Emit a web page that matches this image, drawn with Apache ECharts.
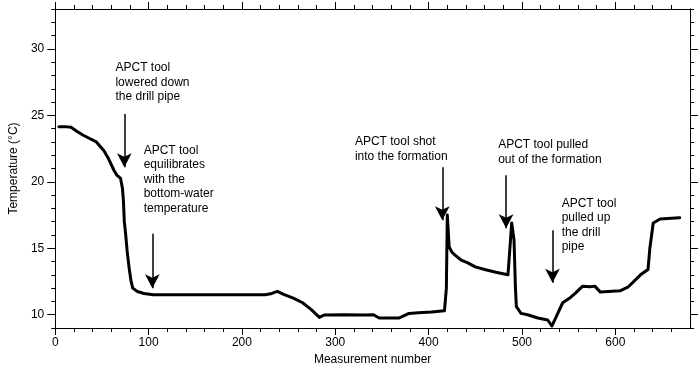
<!DOCTYPE html>
<html>
<head>
<meta charset="utf-8">
<script src="https://cdn.jsdelivr.net/npm/echarts@6/dist/echarts.min.js"></script>
<style>
html,body{margin:0;padding:0;background:#fff;}
#c{width:698px;height:372px;}
</style>
</head>
<body>
<div id="c"></div>
<script>
// Measurement number (x) and temperature in °C (y)
const measurement = [4,10,17,23,30,44,52,57,63,66,70,72,73,74,75.5,77,79,81,83,88,95,105,150,200,225,232,238,244,255,265,274,283,288,310,332,341,347,368,379,389,403,417,419,420,422,425,428,435,442,450,460,472,485,486,489,491.5,493,494,499,506,517,527.6,532,536,543.6,552,557,565,573,578,584,605,614,627,635,637,640.6,648,660,669];
const temperature = [24.15,24.15,24.1,23.8,23.5,23.0,22.35,21.75,20.85,20.5,20.25,19.5,18.6,17.0,16.0,14.8,13.6,12.6,12.0,11.75,11.6,11.5,11.5,11.5,11.5,11.6,11.75,11.55,11.25,10.9,10.4,9.8,9.98,10.0,9.98,10.0,9.75,9.75,10.1,10.15,10.2,10.3,12.0,17.5,15.1,14.7,14.5,14.1,13.9,13.6,13.4,13.2,13.0,13.1,16.9,15.6,12.0,10.6,10.1,10.0,9.75,9.6,9.15,9.75,10.9,11.3,11.6,12.15,12.1,12.15,11.7,11.8,12.1,13.0,13.4,15.0,16.9,17.2,17.25,17.3];

const xMajorTicks = [0,100,200,300,400,500,600];
const xMinorTicks = [20,40,60,80,120,140,160,180,220,240,260,280,320,340,360,380,420,440,460,480,520,540,560,580,620,640,660];
const yMajorTicks = [10,15,20,25,30];
const yMinorTicks = [9,11,12,13,14,16,17,18,19,21,22,23,24,26,27,28,29,31,32,33];

// Annotations: text (top-left anchor in data units) and arrows (x, start y, tip y)
const noteTexts = ['APCT tool\nlowered down\nthe drill pipe','APCT tool\nequilibrates\nwith the\nbottom-water\ntemperature','APCT tool shot\ninto the formation','APCT tool pulled\nout of the formation','APCT tool\npulled up\nthe drill\npipe'];
const noteX = [64.5, 94.7, 321, 474.5, 542.5];
const noteY = [29.1, 22.9, 23.55, 23.3, 18.9];
const arrowX = [74, 104, 414.6, 483, 532.7];
const arrowFromY = [25.1, 16.1, 21.1, 20.5, 16.35];
const arrowToY = [21.1, 12.0, 17.1, 16.5, 12.4];

const FONT = 'Liberation Sans, Arial, Helvetica, sans-serif';
const chart = echarts.init(document.getElementById('c'), null, {renderer:'canvas'});

function xAxisDef(pos, ticks, len, showLabel, name) {
  return {
    type:'value', position:pos, min:0, max:680,
    name: name || '', nameLocation:'middle', nameGap:23,
    nameTextStyle:{fontFamily:FONT, fontSize:12, color:'#000'},
    axisLine:{show:true, onZero:false, lineStyle:{color:'#000', width:1}},
    axisTick:{show:true, customValues:ticks, length:len, lineStyle:{color:'#000', width:1}},
    axisLabel:{show:showLabel, customValues:ticks, margin:9, fontFamily:FONT, fontSize:12, color:'#000'},
    splitLine:{show:false}
  };
}
function yAxisDef(pos, ticks, len, showLabel, name) {
  return {
    type:'value', position:pos, min:9, max:33,
    name: name || '', nameLocation:'middle', nameGap:33,
    nameTextStyle:{fontFamily:FONT, fontSize:12, color:'#000'},
    axisLine:{show:true, onZero:false, lineStyle:{color:'#000', width:1}},
    axisTick:{show:true, customValues:ticks, length:len, lineStyle:{color:'#000', width:1}},
    axisLabel:{show:showLabel, customValues:ticks, margin:11, fontFamily:FONT, fontSize:12, color:'#000'},
    splitLine:{show:false}
  };
}

const lineData = measurement.map((x,i)=>[x, temperature[i]]);

const option = {
  animation:false,
  backgroundColor:'#fff',
  grid:{left:51, right:8, top:9, bottom:44, containLabel:false},
  xAxis:[
    xAxisDef('bottom', xMajorTicks, 7, true, 'Measurement number'),
    xAxisDef('bottom', xMinorTicks, 4, false),
    xAxisDef('top', xMajorTicks, 7, false),
    xAxisDef('top', xMinorTicks, 4, false)
  ],
  yAxis:[
    yAxisDef('left', yMajorTicks, 8, true, 'Temperature (°C)'),
    yAxisDef('left', yMinorTicks, 4, false),
    yAxisDef('right', yMajorTicks, 8, false),
    yAxisDef('right', yMinorTicks, 4, false)
  ],
  series:[
    {
      type:'line', xAxisIndex:0, yAxisIndex:0,
      data: lineData, showSymbol:false, symbol:'none',
      lineStyle:{color:'#000', width:3, join:'round', cap:'round'},
      z:3,
      markLine:{
        silent:true, animation:false,
        symbol:['none','arrow'], symbolSize:[11,14],
        lineStyle:{color:'#000', width:1.5, type:'solid'},
        label:{show:false},
        data: arrowX.map((x,i)=>[{coord:[x, arrowFromY[i]]},{coord:[x, arrowToY[i]]}])
      },
      markPoint:{
        silent:true, animation:false,
        symbol:'circle', symbolSize:0,
        label:{show:true, position:[0,0], align:'left', verticalAlign:'top',
               fontFamily:FONT, fontSize:12, lineHeight:14.5, color:'#000',
               formatter:(p)=>p.name},
        data: noteTexts.map((t,i)=>({name:t, coord:[noteX[i], noteY[i]]}))
      }
    }
  ]
};
chart.setOption(option);
</script>
</body>
</html>
